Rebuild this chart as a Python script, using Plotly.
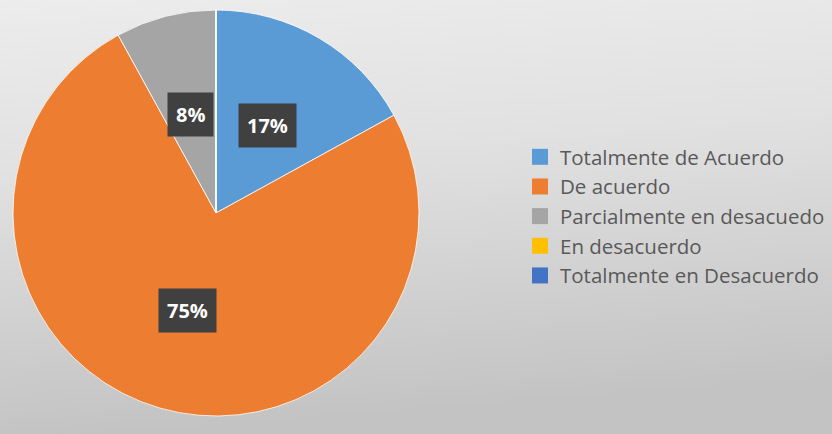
import math
import base64
import plotly.graph_objects as go

categories = ["Totalmente de Acuerdo", "De acuerdo", "Parcialmente en desacuedo",
              "En desacuerdo", "Totalmente en Desacuerdo"]
values = [17, 75, 8, 0, 0]
colors = ["#5B9BD5", "#ED7D31", "#A5A5A5", "#FFC000", "#4472C4"]

W, H = 832, 434
cx, cy, R = 216, 213, 203

svg = f"""<svg xmlns='http://www.w3.org/2000/svg' width='{W}' height='{H}'>
<defs><linearGradient id='g' x1='0' y1='0' x2='0.15' y2='1'>
<stop offset='0' stop-color='#ececec'/><stop offset='0.4' stop-color='#e1e1e1'/>
<stop offset='1' stop-color='#c3c3c3'/></linearGradient></defs>
<rect width='{W}' height='{H}' fill='url(#g)'/></svg>"""
bg = "data:image/svg+xml;base64," + base64.b64encode(svg.encode()).decode()

fig = go.Figure()
fig.add_trace(go.Pie(
    labels=categories, values=values, sort=False, direction="clockwise",
    rotation=0, textinfo="none", showlegend=False,
    marker=dict(colors=colors, line=dict(color="rgba(255,255,255,0.8)", width=1)),
    domain=dict(x=[(cx - R) / W, (cx + R) / W], y=[1 - (cy + R) / H, 1 - (cy - R) / H]),
    hoverinfo="label+percent",
))

# legend via dummy traces
for cat, col in zip(categories, colors):
    fig.add_trace(go.Scatter(
        x=[None], y=[None], mode="markers", name=cat, legendgroup=cat,
        marker=dict(symbol="square", size=18, color=col),
    ))

# percentage labels
total = sum(values)
cum = 0
for v in values:
    if v > 0:
        mid = (cum + v / 2) / total * 2 * math.pi
        px = cx + 0.5 * R * math.sin(mid)
        py = cy - 0.5 * R * math.cos(mid)
        fig.add_annotation(
            x=px / W, y=1 - py / H, xref="paper", yref="paper",
            text=f"<b>{round(v / total * 100)}%</b>", showarrow=False,
            font=dict(family="Open Sans", size=20, color="white"),
            bgcolor="#404040", borderpad=8, xanchor="center", yanchor="middle",
        )
    cum += v

fig.update_layout(
    width=W, height=H, margin=dict(l=0, r=0, t=0, b=0),
    paper_bgcolor="rgba(0,0,0,0)", plot_bgcolor="rgba(0,0,0,0)",
    xaxis=dict(visible=False), yaxis=dict(visible=False),
    images=[dict(source=bg, xref="paper", yref="paper", x=0, y=1, sizex=1, sizey=1,
                 sizing="stretch", layer="below")],
    legend=dict(x=520 / W, y=1 - 137 / H, xanchor="left", yanchor="top",
                font=dict(family="Open Sans", size=20.5, color="#595959"),
                tracegroupgap=0, bgcolor="rgba(0,0,0,0)", itemclick=False),
)

fig.write_html("out.html", config={"displayModeBar": False},
               post_script="document.body.style.margin='0';")
